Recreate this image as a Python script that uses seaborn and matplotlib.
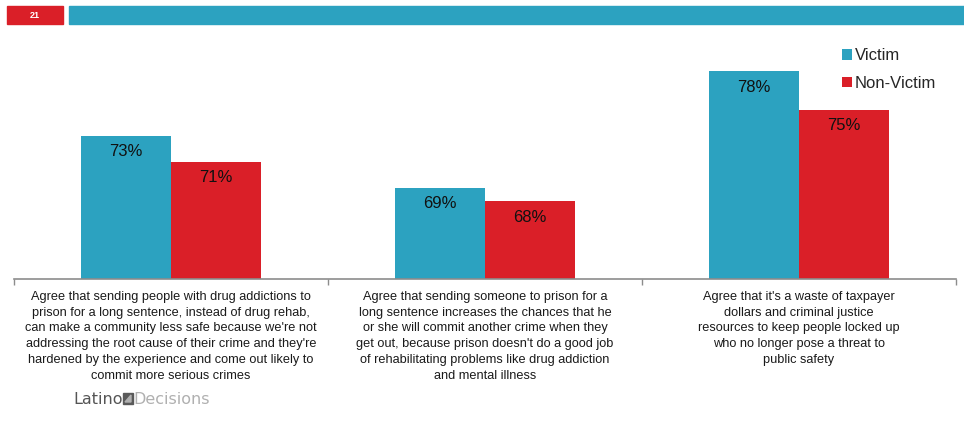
import matplotlib
matplotlib.use("Agg")
import matplotlib.pyplot as plt
from matplotlib.patches import Rectangle, Polygon
import seaborn as sns
import pandas as pd

categories = [
    "Agree that sending people with drug addictions to\nprison for a long sentence, instead of drug rehab,\ncan make a community less safe because we're not\naddressing the root cause of their crime and they're\nhardened by the experience and come out likely to\ncommit more serious crimes",
    "Agree that sending someone to prison for a\nlong sentence increases the chances that he\nor she will commit another crime when they\nget out, because prison doesn't do a good job\nof rehabilitating problems like drug addiction\nand mental illness",
    "Agree that it's a waste of taxpayer\ndollars and criminal justice\nresources to keep people locked up\nwho no longer pose a threat to\npublic safety",
]
groups = ["Victim", "Non-Victim"]
victim = [73, 69, 78]
non_victim = [71, 68, 75]
page_number = "21"

TEAL = "#2ca2c0"
RED = "#da1f28"

sns.set_theme(style="white")
plt.rcParams["font.family"] = ["Liberation Sans", "DejaVu Sans"]

df = pd.DataFrame({
    "item": list(range(len(categories))) * 2,
    "group": [groups[0]] * len(victim) + [groups[1]] * len(non_victim),
    "pct": victim + non_victim,
})

fig = plt.figure(figsize=(9.64, 4.28), dpi=100)
W, H = 964, 428

# header strip
fig.patches.append(Rectangle((7 / W, 1 - 24 / H), 56 / W, 18 / H,
                             transform=fig.transFigure, color=RED, zorder=0))
fig.patches.append(Rectangle((69 / W, 1 - 24 / H), (W - 69) / W, 18 / H,
                             transform=fig.transFigure, color=TEAL, zorder=0))
fig.text(35 / W, 1 - 15 / H, page_number, color="white", fontsize=6.5,
         fontweight="bold", ha="center", va="center")

ax = fig.add_axes([14 / W, 1 - 279 / H, 942 / W, 234 / H])
sns.barplot(data=df, x="item", y="pct", hue="group", hue_order=groups,
            palette=[TEAL, RED], width=0.574, gap=0, saturation=1,
            order=list(range(len(categories))), ax=ax, legend=True,
            linewidth=0)
ax.set_ylim(62, 80)
ax.set_xlim(-0.5, len(categories) - 0.5)

for container in ax.containers:
    for bar in container:
        h = bar.get_height()
        ax.annotate(f"{h:.0f}%", (bar.get_x() + bar.get_width() / 2, h),
                    xytext=(0, -16), textcoords="offset pixels",
                    ha="center", va="center", fontsize=12, color="#111111")

for s in ["left", "top", "right"]:
    ax.spines[s].set_visible(False)
ax.spines["bottom"].set_color("#8c8c8c")
ax.spines["bottom"].set_linewidth(1.2)
ax.set_yticks([])
ax.set_xticks([i - 0.5 for i in range(len(categories) + 1)])
ax.set_xticklabels([])
ax.tick_params(axis="x", bottom=True, length=4, width=1, color="#8c8c8c",
               direction="out")
ax.set_xlabel("")
ax.set_ylabel("")

for i, txt in enumerate(categories):
    ax.text(i, -0.05, txt, transform=ax.get_xaxis_transform(), ha="center",
            va="top", fontsize=9.2, color="#1a1a1a", linespacing=1.43)

ax.legend(loc="upper left", bbox_to_anchor=(834 / W, 1 - 40 / H),
          bbox_transform=fig.transFigure, frameon=False, fontsize=12,
          handlelength=0.6, handleheight=0.6, handletextpad=0.15,
          labelspacing=0.75, borderpad=0)

# wordmark
fig.text(73 / W, 1 - 404 / H, "Latino", fontsize=11.5, color="#555555",
         va="baseline", ha="left", family="DejaVu Sans")
fig.patches.append(Rectangle((123 / W, 1 - 404 / H), 10 / W, 11 / H,
                             transform=fig.transFigure, color="#5a5a5a"))
fig.patches.append(Polygon([(125 / W, 1 - 402 / H), (131 / W, 1 - 395 / H),
                            (131 / W, 1 - 402 / H)], closed=True,
                           transform=fig.transFigure, color="#b0b0b0"))
fig.text(133 / W, 1 - 404 / H, "Decisions", fontsize=11.5, color="#b0b0b0",
         va="baseline", ha="left", family="DejaVu Sans")

fig.savefig("out.png", dpi=100)
